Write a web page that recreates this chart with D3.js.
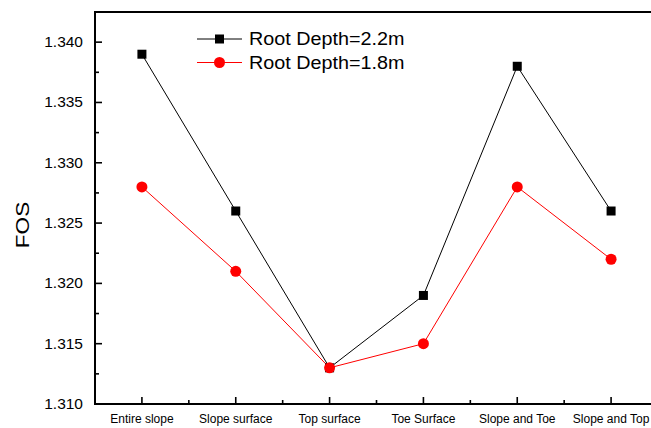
<!DOCTYPE html>
<html><head><meta charset="utf-8">
<script src="https://cdn.jsdelivr.net/npm/d3@7"></script>
<style>body{margin:0;background:#fff}svg{display:block}text{font-family:"Liberation Sans",Arial,sans-serif}</style>
</head><body>
<svg id="c" width="651" height="428"></svg>
<script>
const categories = ["Entire slope","Slope surface","Top surface","Toe Surface","Slope and Toe","Slope and Top"];
const depth22 = [1.339,1.326,1.313,1.319,1.338,1.326];
const depth18 = [1.328,1.321,1.313,1.315,1.328,1.322];
const yTicks = [1.310,1.315,1.320,1.325,1.330,1.335,1.340];
const seriesNames = ["Root Depth=2.2m","Root Depth=1.8m"];

const svg = d3.select("#c");
const mLeft = 95, mTop = 12, mBottom = 404, mRight = 658;
const x = d3.scaleLinear().domain([-0.5, 5.5]).range([mLeft, mRight]);
const y = d3.scaleLinear().domain([1.310, 1.3425]).range([mBottom, mTop]);

// frame top
svg.append("line").attr("x1",mLeft).attr("x2",651).attr("y1",mTop).attr("y2",mTop).attr("stroke","#000").attr("stroke-width",2);

// y axis
const yAxis = d3.axisLeft(y).tickValues(yTicks).tickFormat(d3.format(".3f")).tickSize(-7).tickPadding(12).offset(0);
const gy = svg.append("g").attr("transform",`translate(${mLeft},0)`).call(yAxis);
gy.select(".domain").attr("stroke","#000").attr("stroke-width",2).attr("d",`M0,${mBottom+1}V${mTop-1}`);
gy.selectAll(".tick line").attr("stroke","#000").attr("stroke-width",1.6);
gy.selectAll("text").attr("font-size",15.5).attr("fill","#000");
const yMinor = d3.range(1.3125,1.3425,0.005);
gy.selectAll(".minor").data(yMinor).enter().append("line").attr("x1",0).attr("x2",4).attr("y1",d=>y(d)).attr("y2",d=>y(d)).attr("stroke","#000").attr("stroke-width",1.6);

// x axis
const xAxis = d3.axisBottom(x).tickValues(d3.range(categories.length)).tickFormat(i=>categories[i]).tickSize(-7).tickPadding(10).offset(0);
const gx = svg.append("g").attr("transform",`translate(0,${mBottom})`).call(xAxis);
gx.select(".domain").attr("stroke","#000").attr("stroke-width",2).attr("d",`M${mLeft},0H651`);
gx.selectAll(".tick line").attr("stroke","#000").attr("stroke-width",1.6);
gx.selectAll("text").attr("font-size",12).attr("fill","#000");
const xMinor = d3.range(-0.5,5.5,1);
gx.selectAll(".minor").data(xMinor).enter().append("line").attr("x1",d=>x(d)).attr("x2",d=>x(d)).attr("y1",0).attr("y2",-4).attr("stroke","#000").attr("stroke-width",1.6);

// y label
svg.append("text").attr("transform","translate(28.5,225) rotate(-90) scale(1.22,1)").attr("text-anchor","middle").attr("font-size",18.5).text("FOS");

const line = d3.line().x((d,i)=>x(i)).y(d=>y(d));
svg.append("path").datum(depth18).attr("d",line).attr("fill","none").attr("stroke","#ff0000").attr("stroke-width",1);
svg.append("path").datum(depth22).attr("d",line).attr("fill","none").attr("stroke","#000").attr("stroke-width",1);
svg.selectAll(".sq").data(depth22).enter().append("rect").attr("x",(d,i)=>x(i)-4.5).attr("y",d=>y(d)-4.5).attr("width",9).attr("height",9).attr("fill","#000");
svg.selectAll(".ci").data(depth18).enter().append("circle").attr("cx",(d,i)=>x(i)).attr("cy",d=>y(d)).attr("r",5.5).attr("fill","#ff0000");

// legend
const lg = svg.append("g");
[0,1].forEach(k=>{
  const ly = 39 + k*23.5;
  const col = k===0 ? "#000" : "#ff0000";
  lg.append("line").attr("x1",197).attr("x2",242).attr("y1",ly).attr("y2",ly).attr("stroke",col).attr("stroke-width",1);
  if(k===0) lg.append("rect").attr("x",215).attr("y",ly-4.5).attr("width",9).attr("height",9).attr("fill","#000");
  else lg.append("circle").attr("cx",219.5).attr("cy",ly).attr("r",5.5).attr("fill","#ff0000");
  lg.append("text").attr("transform",`translate(249,${ly+6}) scale(1.13,1)`).attr("font-size",17.5).text(seriesNames[k]);
});
</script>
</body></html>
